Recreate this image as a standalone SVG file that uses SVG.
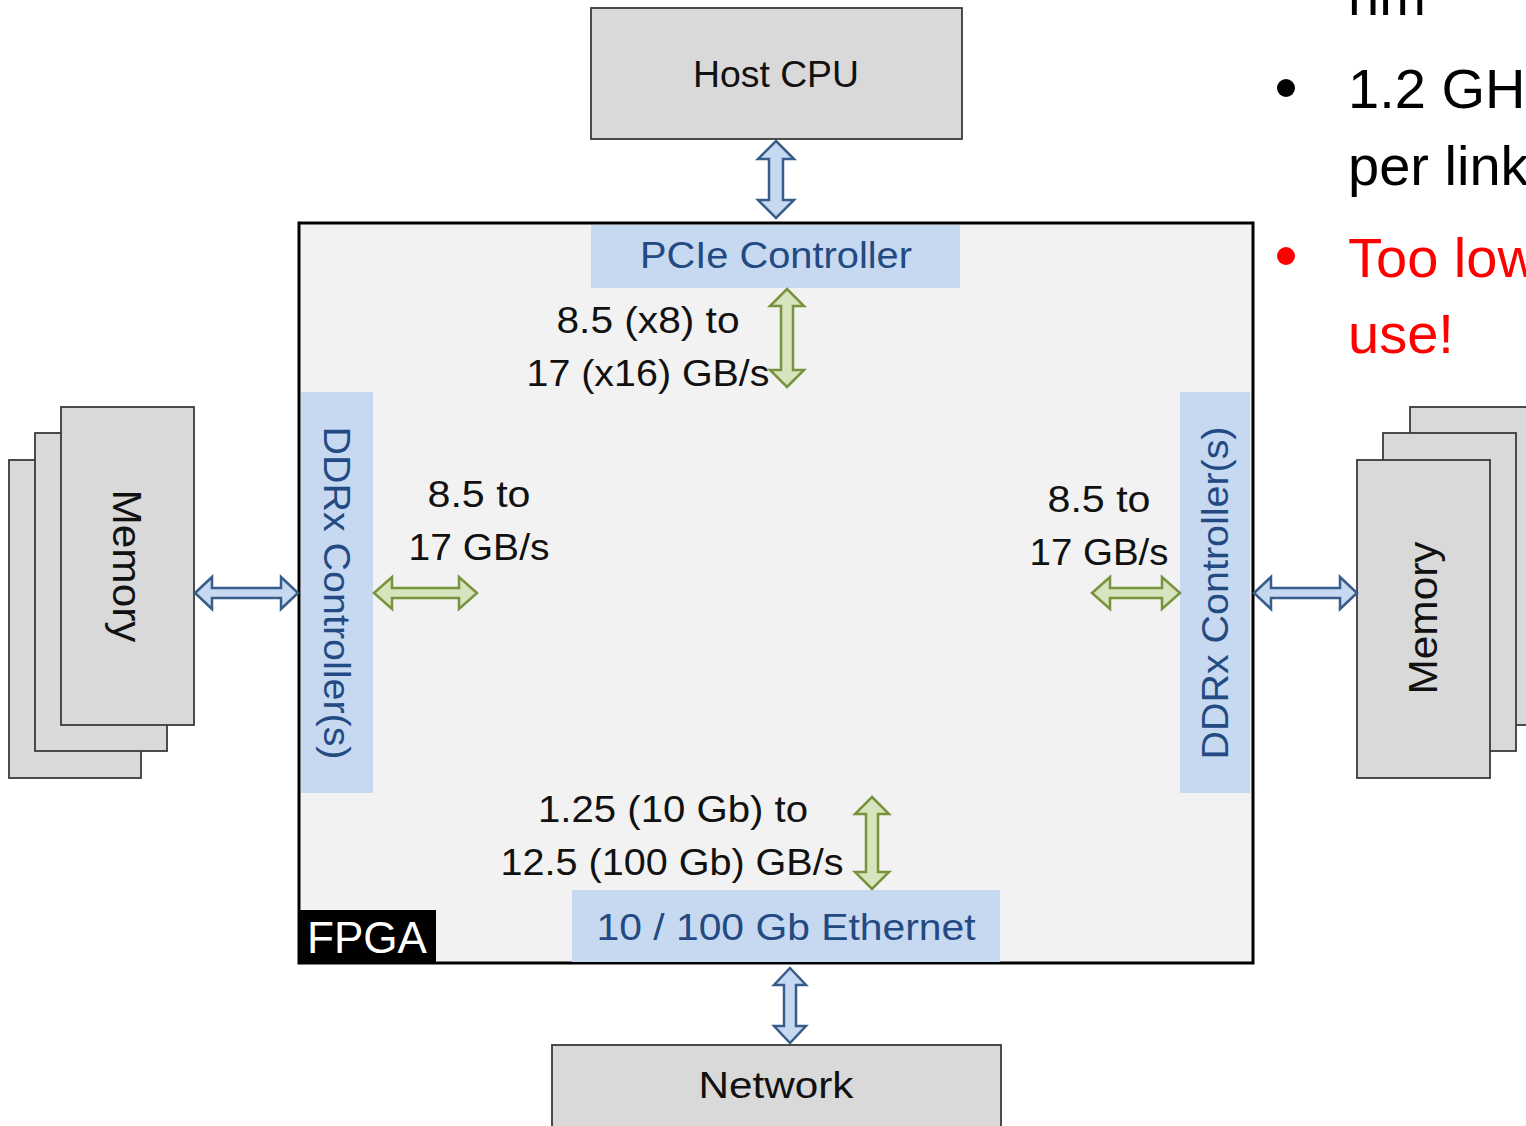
<svg xmlns="http://www.w3.org/2000/svg" width="1526" height="1126" viewBox="0 0 1526 1126">
<style>
text{font-family:"Liberation Sans",Arial,sans-serif;}
.box{fill:#d9d9d9;stroke:#3a3a3a;stroke-width:1.8;}
.ctrl{fill:#c6d9f1;stroke:none;}
.lbl{font-size:37px;fill:#111;text-anchor:middle;}
.clbl{font-size:37px;fill:#234a82;text-anchor:middle;}
.barrow{fill:#c6d9f1;stroke:#385d8a;stroke-width:2.5;stroke-linejoin:miter;}
.garrow{fill:#d7e4bd;stroke:#77933c;stroke-width:2.5;stroke-linejoin:miter;}
.bul{font-size:56px;fill:#000;}
.red{fill:#ff0000;}
</style>
<rect width="1526" height="1126" fill="#ffffff"/>

<g id="fpga">
<rect x="299" y="223" width="954" height="740" fill="#f2f2f2" stroke="#000" stroke-width="3"/>
<rect x="299" y="910" width="137" height="54" fill="#000"/>
<text x="367" y="953" font-size="44" fill="#fff" text-anchor="middle" textLength="120" lengthAdjust="spacingAndGlyphs">FPGA</text>
</g>

<g id="host-cpu">
<rect class="box" x="591" y="8" width="371" height="131"/>
<text class="lbl" x="776" y="87" textLength="166" lengthAdjust="spacingAndGlyphs">Host CPU</text>
</g>

<g id="network">
<rect class="box" x="552" y="1045" width="449" height="100"/>
<text class="lbl" x="776" y="1098" textLength="155" lengthAdjust="spacingAndGlyphs">Network</text>
</g>

<g id="pcie-controller">
<rect class="ctrl" x="591" y="225" width="369" height="63"/>
<text class="clbl" x="776" y="268" textLength="272" lengthAdjust="spacingAndGlyphs">PCIe Controller</text>
</g>

<g id="ethernet">
<rect class="ctrl" x="572" y="890" width="428" height="72"/>
<text class="clbl" x="786" y="940" textLength="379" lengthAdjust="spacingAndGlyphs">10 / 100 Gb Ethernet</text>
</g>

<g id="ddr-left">
<rect class="ctrl" x="301" y="392" width="72" height="401"/>
<text class="clbl" transform="translate(337,593) rotate(90)" x="0" y="13" textLength="333" lengthAdjust="spacingAndGlyphs">DDRx Controller(s)</text>
</g>

<g id="ddr-right">
<rect class="ctrl" x="1180" y="392" width="70" height="401"/>
<text class="clbl" transform="translate(1215,593) rotate(-90)" x="0" y="13" textLength="333" lengthAdjust="spacingAndGlyphs">DDRx Controller(s)</text>
</g>

<g id="memory-left">
<rect class="box" x="9" y="460" width="132" height="318"/>
<rect class="box" x="35" y="433" width="132" height="318"/>
<rect class="box" x="61" y="407" width="133" height="318"/>
<text class="lbl" font-size="40" style="font-size:40px" transform="translate(128,566) rotate(90)" x="0" y="15" textLength="153" lengthAdjust="spacingAndGlyphs">Memory</text>
</g>

<g id="memory-right">
<rect class="box" x="1410" y="407" width="133" height="318"/>
<rect class="box" x="1383" y="433" width="133" height="318"/>
<rect class="box" x="1357" y="460" width="133" height="318"/>
<text class="lbl" style="font-size:40px" transform="translate(1422,618) rotate(-90)" x="0" y="15" textLength="153" lengthAdjust="spacingAndGlyphs">Memory</text>
</g>

<g id="connectors">
<polygon class="barrow" points="776,141 794,159 783,159 783,200 794,200 776,218 758,200 769,200 769,159 758,159"/>
<polygon class="garrow" points="787,289 804,306 793,306 793,370 804,370 787,387 770,370 781,370 781,306 770,306"/>
<polygon class="barrow" points="195,593 212,577 212,588 281,588 281,577 298,593 281,609 281,598 212,598 212,609"/>
<polygon class="garrow" points="374,593 392,577 392,588 459,588 459,577 477,593 459,609 459,598 392,598 392,609"/>
<polygon class="garrow" points="1092,593 1110,577 1110,588 1162,588 1162,577 1180,593 1162,609 1162,598 1110,598 1110,609"/>
<polygon class="barrow" points="1254,593 1271,577 1271,588 1340,588 1340,577 1357,593 1340,609 1340,598 1271,598 1271,609"/>
<polygon class="garrow" points="872,797 889,814 878,814 878,872 889,872 872,889 855,872 866,872 866,814 855,814"/>
<polygon class="barrow" points="790,968 806,985 796,985 796,1026 806,1026 790,1043 774,1026 784,1026 784,985 774,985"/>
</g>

<g id="labels">
<text class="lbl" x="648" y="333" textLength="183" lengthAdjust="spacingAndGlyphs">8.5 (x8) to</text>
<text class="lbl" x="648" y="386" textLength="243" lengthAdjust="spacingAndGlyphs">17 (x16) GB/s</text>
<text class="lbl" x="479" y="507" textLength="103" lengthAdjust="spacingAndGlyphs">8.5 to</text>
<text class="lbl" x="479" y="560" textLength="141" lengthAdjust="spacingAndGlyphs">17 GB/s</text>
<text class="lbl" x="1099" y="512" textLength="103" lengthAdjust="spacingAndGlyphs">8.5 to</text>
<text class="lbl" x="1099" y="565" textLength="139" lengthAdjust="spacingAndGlyphs">17 GB/s</text>
<text class="lbl" x="673" y="822" textLength="270" lengthAdjust="spacingAndGlyphs">1.25 (10 Gb) to</text>
<text class="lbl" x="672" y="875" textLength="343" lengthAdjust="spacingAndGlyphs">12.5 (100 Gb) GB/s</text>
</g>

<g id="bullets">
<text class="bul" x="1348" y="15">nm</text>
<circle cx="1286" cy="88" r="9" fill="#000"/>
<text class="bul" x="1348" y="108">1.2 GHz</text>
<text class="bul" x="1348" y="185">per link</text>
<circle cx="1286" cy="256" r="9" fill="#ff0000"/>
<text class="bul red" x="1348" y="277">Too low</text>
<text class="bul red" x="1348" y="353">use!</text>
</g>
</svg>
